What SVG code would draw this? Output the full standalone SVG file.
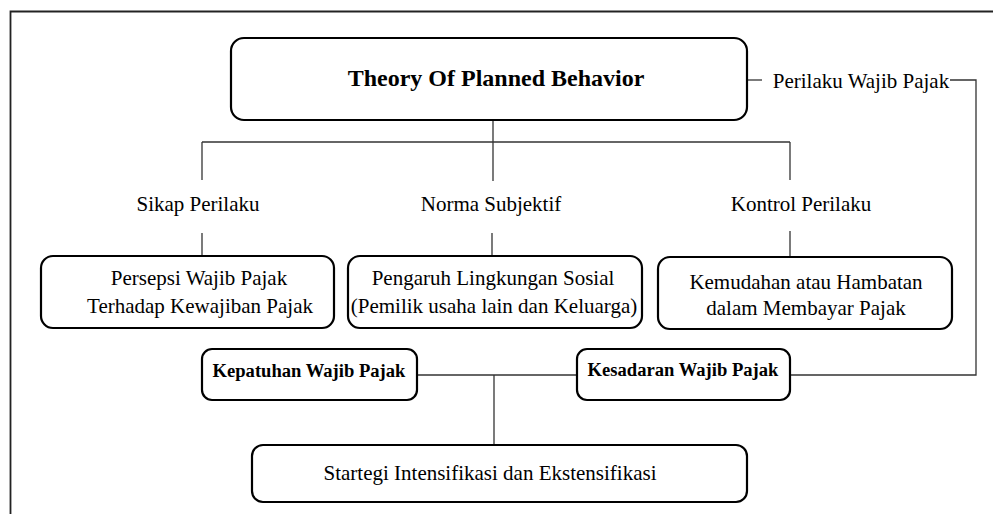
<svg xmlns="http://www.w3.org/2000/svg" width="993" height="514" viewBox="0 0 993 514">
<style>
.box{fill:#fff;stroke:#000;stroke-width:2.2}
.ln{fill:none;stroke:#333;stroke-width:1.3}
.t{font-family:"Liberation Serif","Times New Roman",serif;font-size:21px;fill:#000;text-anchor:middle}
.b{font-family:"Liberation Serif","Times New Roman",serif;font-weight:bold;fill:#000;text-anchor:middle}
</style>
<rect width="993" height="514" fill="#fff"/>
<path d="M10.5 514 V11.5 H993" fill="none" stroke="#222" stroke-width="1.8"/>
<g id="connectors">
<path class="ln" d="M493 120 V181"/>
<path class="ln" d="M202 142 H790"/>
<path class="ln" d="M202 142 V180"/>
<path class="ln" d="M790 142 V180"/>
<path class="ln" d="M202 233 V256"/>
<path class="ln" d="M492 233 V256"/>
<path class="ln" d="M790 231 V257"/>
<path class="ln" d="M748 80 H762"/>
<path class="ln" d="M950 80 H976 V375 H790"/>
<path class="ln" d="M417 375 H577"/>
<path class="ln" d="M494 375 V445"/>
</g>
<g id="title">
<rect class="box" x="231" y="38" width="516" height="82" rx="13"/>
<text class="b" x="496" y="86" font-size="24">Theory Of Planned Behavior</text>
</g>
<g id="perilaku">
<text class="t" x="861" y="88" font-size="20.5">Perilaku Wajib Pajak</text>
</g>
<g id="sikap"><text class="t" x="198" y="211">Sikap Perilaku</text></g>
<g id="norma"><text class="t" x="491" y="211">Norma Subjektif</text></g>
<g id="kontrol"><text class="t" x="801" y="211">Kontrol Perilaku</text></g>
<g id="persepsi">
<rect class="box" x="41" y="256" width="293" height="72" rx="12"/>
<text class="t" x="199" y="285">Persepsi Wajib Pajak</text>
<text class="t" x="200" y="313">Terhadap Kewajiban Pajak</text>
</g>
<g id="pengaruh">
<rect class="box" x="348" y="256" width="294" height="72" rx="12"/>
<text class="t" x="493" y="285">Pengaruh Lingkungan Sosial</text>
<text class="t" x="494" y="313">(Pemilik usaha lain dan Keluarga)</text>
</g>
<g id="kemudahan">
<rect class="box" x="658" y="257" width="294" height="72" rx="12"/>
<text class="t" x="806" y="289">Kemudahan atau Hambatan</text>
<text class="t" x="806" y="315">dalam Membayar Pajak</text>
</g>
<g id="kepatuhan">
<rect class="box" x="202" y="349" width="215" height="51" rx="10"/>
<text class="b" x="309" y="377" font-size="18.6">Kepatuhan Wajib Pajak</text>
</g>
<g id="kesadaran">
<rect class="box" x="577" y="349" width="213" height="51" rx="10"/>
<text class="b" x="683" y="376" font-size="18.6">Kesadaran Wajib Pajak</text>
</g>
<g id="strategi">
<rect class="box" x="252" y="445" width="495" height="57" rx="11"/>
<text class="t" x="490" y="480">Startegi Intensifikasi dan Ekstensifikasi</text>
</g>
</svg>
